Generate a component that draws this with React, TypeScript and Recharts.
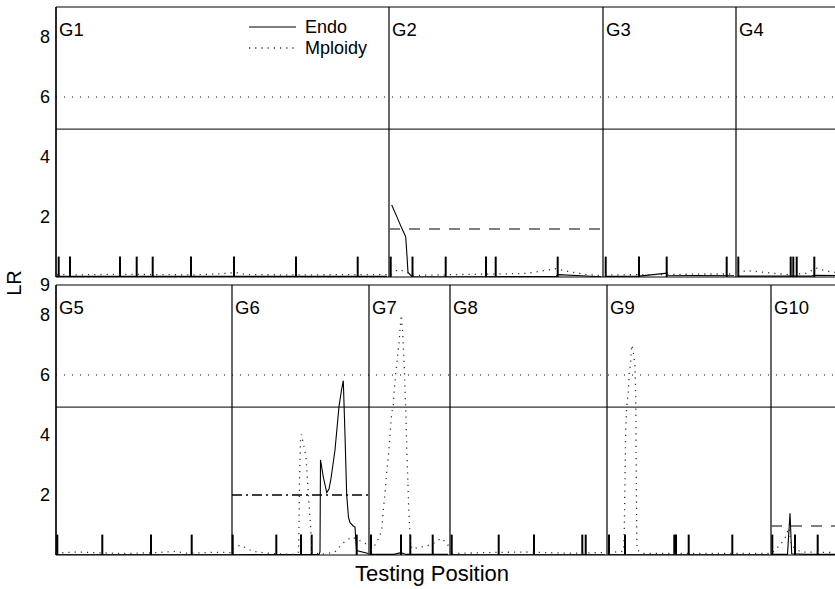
import React from 'react';
import { LineChart, Line, XAxis, YAxis, ReferenceLine, Legend } from 'recharts';

type P = [number, number | null];

// ---------- categories / groups ----------
const topGroups = ['G1', 'G2', 'G3', 'G4'];
const topGroupStarts = [0, 333, 547, 680];
const bottomGroups = ['G5', 'G6', 'G7', 'G8', 'G9', 'G10'];
const bottomGroupStarts = [0, 176, 313, 394, 551, 715];

const topYTicks = [2, 4, 6, 8];
const bottomYTicks = [2, 4, 6, 8, 9];

const endoThreshold = 4.93;
const mploidyThreshold = 6;

// marker positions (testing positions)
const topMarkers = [2.7, 14, 64, 80.7, 96.7, 135, 178, 240, 301.7, 334.7, 356.5, 389.7, 430, 439.7, 501.7, 549.7, 583, 610.7, 670.7, 682.3, 734.7, 737.3, 740.7, 758.3];
const bottomMarkers = [1.3, 46.3, 95, 135.7, 176.7, 220.3, 245, 255.7, 300.7, 315, 345, 354.3, 376.7, 395.7, 442.7, 478, 526.3, 529.7, 553, 569, 618.3, 620, 632.7, 676.3, 716.3, 739, 761.7];
const markerHeight = 0.68;

// group-specific significance levels: [start, end, level]
const topDashed: [number, number, number][] = [[333, 544, 1.6]];
const bottomDashDot: [number, number, number][] = [[176, 313, 2.0]];
const bottomDashed: [number, number, number][] = [[715, 790, 0.97]];

// ---------- series ----------
const topEndo: P[] = [
  [0, 0.02], [331, 0.02], [332, null],
  [335.7, 2.4], [340.7, 2.02], [345.7, 1.63], [349.7, 1.34], [351, 0.7], [352, 0.15], [356.5, 0.0], [430, 0.01], [500, 0.02], [502, 0.08], [525, 0.04], [545, 0.01], [546, null],
  [549, 0.02], [583, 0.03], [611, 0.13], [612, 0.06], [640, 0.05], [678, 0.04], [679, null],
  [682, 0.03], [756, 0.03], [758, 0.06], [780, 0.05],
];
const topMploidy: P[] = [
  [1, 0.08], [20, 0.07], [60, 0.09], [100, 0.08], [140, 0.07], [170, 0.12], [180, 0.15], [190, 0.08], [240, 0.07], [300, 0.08], [331, 0.08], [332, null],
  [335, 0.08], [342, 0.25], [350, 0.18], [356, 0.05], [400, 0.08], [440, 0.1], [470, 0.12], [490, 0.22], [500, 0.28], [510, 0.2], [530, 0.08], [545, 0.05], [546, null],
  [549, 0.07], [600, 0.08], [650, 0.1], [678, 0.1], [679, null],
  [682, 0.1], [690, 0.22], [710, 0.15], [730, 0.08], [750, 0.12], [760, 0.3], [770, 0.2], [780, 0.15],
];
const bottomEndo: P[] = [
  [0, 0.01], [175, 0.01], [175.5, null],
  [177, 0.01], [263, 0.02], [264, 0.1], [264.5, 3.17], [267.3, 2.6], [270.7, 2.08], [273, 2.2], [275, 2.55], [279, 3.5], [283, 4.95], [285.5, 5.5], [287.3, 5.81], [289, 4.0], [290.7, 2.0], [292.5, 1.25], [294, 1.08], [297.5, 0.96], [299, 0.93], [300.5, 0.15], [312.3, 0.05], [312.6, null],
  [315, 0.02], [338, 0.02], [345, 0.08], [350, 0.02], [392, 0.02], [393, null],
  [396, 0.01], [549, 0.01], [550, null],
  [553, 0.01], [713, 0.01], [714, null],
  [717, 0.02], [731.5, 0.02], [734, 1.39], [735.7, 0.04], [750, 0.02], [780, 0.02],
];
const bottomMploidy: P[] = [
  [0, 0.06], [20, 0.1], [45, 0.07], [70, 0.05], [100, 0.08], [120, 0.12], [130, 0.06], [160, 0.09], [175, 0.08], [175.5, null],
  [177, 0.2], [184, 0.33], [197, 0.12], [215, 0.05], [240, 0.02], [242.5, 0.1], [243, 1.0], [243.5, 2.5], [244.5, 3.8], [245.5, 4.02], [248, 3.6], [250, 3.27], [252.3, 2.06], [255, 0.73], [256, 0.1], [265, 0.02], [279, 0.1], [287, 0.4], [295.7, 0.6], [305.7, 0.45], [312.3, 0.33], [312.6, null],
  [315, 0.15], [317, 0.22], [323, 0.57], [325.7, 0.83], [327.3, 1.5], [329, 2.06], [330.7, 2.78], [332.3, 3.28], [334, 4.0], [335.7, 4.72], [337.3, 5.0], [338.3, 5.5], [339.7, 6.06], [341.3, 6.56], [343, 7.06], [344, 7.5], [345.3, 8.0], [346.7, 7.39], [348.3, 6.28], [349, 5.5], [350, 4.61], [350.7, 3.61], [351.7, 2.61], [352.7, 1.61], [353.7, 0.83], [354, 0.5], [356, 0.2], [367.3, 0.28], [376, 0.35], [385, 0.56], [390.7, 0.4], [392.5, 0.3], [393, null],
  [396, 0.05], [430, 0.08], [470, 0.1], [510, 0.06], [549, 0.08], [550, null],
  [553, 0.05], [560.7, 0.11], [567.5, 0.12], [568, 0.5], [568.3, 0.83], [569, 2.5], [569.7, 4.17], [570.7, 4.94], [572.3, 5.44], [573.3, 6.06], [574.7, 6.44], [575.7, 7.0], [577.3, 6.78], [579, 6.28], [579.7, 5.28], [580, 4.17], [580.3, 2.5], [580.7, 0.83], [581, 0.17], [587, 0.05], [650, 0.05], [713, 0.05], [714, null],
  [717, 0.1], [724, 0.33], [729, 0.56], [733, 0.9], [735.5, 0.3], [745, 0.1], [780, 0.08],
];

const FONT = '"Liberation Sans", Arial, sans-serif';
const toData = (pts: P[]) => pts.map(([x, y]) => ({ x, y }));

const GroupLabel = (props: any) => {
  const vb = props.viewBox || {};
  return (
    <text x={vb.x + 3} y={vb.y + 29} fontFamily={FONT} fontSize={18.5} fill="#000">
      {props.name}
    </text>
  );
};

const renderLegend = (props: any) => {
  const payload = (props && props.payload) || [];
  return (
    <div style={{ position: 'relative', width: 170, height: 44, fontFamily: FONT, fontSize: 18, color: '#000' }}>
      {payload.map((p: any, i: number) => (
        <div key={i} style={{ position: 'absolute', left: 0, top: i * 21, height: 22, width: 170 }}>
          <svg width={50} height={22} style={{ position: 'absolute', left: 0, top: 0 }}>
            <line x1={0} x2={47} y1={11} y2={11} stroke={i === 0 ? '#000' : '#333'} strokeWidth={i === 0 ? 1 : 1.3} strokeDasharray={i === 0 ? undefined : '1.2 5'} />
          </svg>
          <span style={{ position: 'absolute', left: 56, top: 0, lineHeight: '22px', whiteSpace: 'nowrap' }}>{p.value}</span>
        </div>
      ))}
    </div>
  );
};

type PanelProps = {
  groups: string[];
  starts: number[];
  ticks: number[];
  markers: number[];
  endo: P[];
  mploidy: P[];
  dashed: [number, number, number][];
  dashDot: [number, number, number][];
  legend?: boolean;
  top: number;
};

const Panel = ({ groups, starts, ticks, markers, endo, mploidy, dashed, dashDot, legend, top }: PanelProps) => (
  <LineChart width={845} height={top + 283} margin={{ top, right: 9, bottom: 13, left: 16 }}>
    <XAxis type="number" dataKey="x" domain={[0, 780]} hide allowDataOverflow />
    <YAxis
      type="number"
      domain={[0, 9]}
      ticks={ticks}
      width={40}
      axisLine={{ stroke: '#000', strokeWidth: 1.2 }}
      tickLine={false}
      tickSize={6}
      tickMargin={0}
      interval={0}
      tick={{ fill: '#000', fontSize: 18, fontFamily: FONT }}
      allowDataOverflow
    />
    <ReferenceLine y={9} stroke="#000" strokeWidth={1.2} />
    <ReferenceLine y={0} stroke="#000" strokeWidth={1.2} />
    <ReferenceLine y={mploidyThreshold} stroke="#000" strokeWidth={1} strokeDasharray="1 7" />
    <ReferenceLine y={endoThreshold} stroke="#333" strokeWidth={1.2} />
    {starts.map((s, i) => (
      <ReferenceLine key={'g' + i} x={s} stroke="#000" strokeWidth={1.2} label={(p: any) => <GroupLabel {...p} name={groups[i]} />} />
    ))}
    {dashed.map(([a, b, v], i) => (
      <ReferenceLine key={'d' + i} segment={[{ x: a, y: v }, { x: b, y: v }]} stroke="#555" strokeWidth={1.5} strokeDasharray="11 9" ifOverflow="hidden" />
    ))}
    {dashDot.map(([a, b, v], i) => (
      <ReferenceLine key={'dd' + i} segment={[{ x: a, y: v }, { x: b, y: v }]} stroke="#000" strokeWidth={1.3} strokeDasharray="10 4 2 4" />
    ))}
    {markers.map((m, i) => (
      <ReferenceLine key={'m' + i} segment={[{ x: m, y: 0 }, { x: m, y: markerHeight }]} stroke="#000" strokeWidth={2} />
    ))}
    <Line name="Endo" data={toData(endo)} dataKey="y" type="linear" stroke="#000" strokeWidth={1.1} dot={false} isAnimationActive={false} connectNulls={false} />
    <Line name="Mploidy" data={toData(mploidy)} dataKey="y" type="linear" stroke="#333" strokeWidth={1.3} strokeDasharray="1.2 5" dot={false} isAnimationActive={false} connectNulls={false} />
    {legend && (
      <Legend
        layout="horizontal"
        verticalAlign="middle"
        align="center"
        content={renderLegend}
        wrapperStyle={{ position: 'absolute', top: 16, left: 249, width: 170, height: 44 }}
      />
    )}
  </LineChart>
);

export default function App() {
  return (
    <div style={{ position: 'absolute', left: 0, top: 0, width: 835, height: 589, overflow: 'hidden', background: '#fff' }}>
      <div style={{ position: 'absolute', left: 0, top: 0 }}>
        <Panel top={7} groups={topGroups} starts={topGroupStarts} ticks={topYTicks} markers={topMarkers} endo={topEndo} mploidy={topMploidy} dashed={topDashed} dashDot={[]} legend />
      </div>
      <div style={{ position: 'absolute', left: 0, top: 268 }}>
        <Panel top={17} groups={bottomGroups} starts={bottomGroupStarts} ticks={bottomYTicks} markers={bottomMarkers} endo={bottomEndo} mploidy={bottomMploidy} dashed={bottomDashed} dashDot={bottomDashDot} />
      </div>
      <svg width={835} height={589} style={{ position: 'absolute', left: 0, top: 0, pointerEvents: 'none' }}>
        <text x={21} y={283} transform="rotate(-90 21 283)" textAnchor="middle" fontFamily={FONT} fontSize={20} fill="#000">LR</text>
        <text x={432} y={581} textAnchor="middle" fontFamily={FONT} fontSize={22} fill="#000">Testing Position</text>
      </svg>
    </div>
  );
}
